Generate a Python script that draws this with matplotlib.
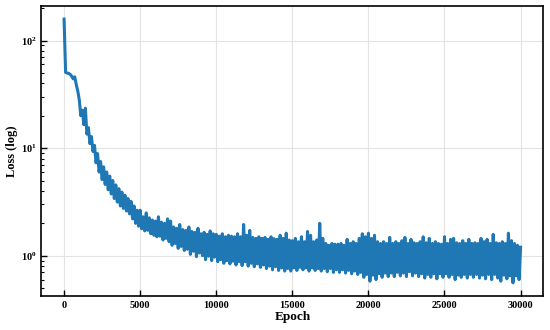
import numpy as np
import matplotlib
matplotlib.use("Agg")
import matplotlib.pyplot as plt

# training loss, one value every 100 epochs
epoch = np.arange(0, 30001, 100)
loss = [
    158, 50.5, 49.8, 49.5, 48.5, 46.5, 44, 46, 39, 34,
    28, 20, 22.5, 16.5, 23.5, 13.5, 15.5, 11, 12.8, 9.3,
    10.6, 7.3, 8.9, 6.0, 7.5, 5.1, 6.7, 4.6, 6.0, 4.1,
    5.5, 3.75, 5.0, 3.4, 4.55, 3.15, 4.2, 2.9, 3.9, 2.75,
    3.65, 2.6, 3.4, 2.45, 3.2, 2.2, 2.9, 2.0, 2.65, 1.88,
    2.65, 1.78, 2.3, 1.7, 2.5, 1.72, 2.25, 1.6, 2.15, 1.55,
    2.1, 1.5, 2.3, 1.52, 2.05, 1.4, 2.0, 1.45, 2.2, 1.35,
    2.1, 1.25, 1.85, 1.3, 1.8, 1.17, 1.95, 1.22, 1.75, 1.12,
    1.72, 1.15, 1.85, 1.03, 1.68, 1.1, 1.65, 0.98, 1.8, 1.06,
    1.6, 1.0, 1.65, 0.92, 1.58, 0.99, 1.7, 0.9, 1.6, 0.97,
    1.58, 0.88, 1.52, 0.92, 1.6, 0.85, 1.5, 0.9, 1.55, 0.84,
    1.52, 0.89, 1.5, 0.82, 1.6, 0.88, 1.5, 0.81, 1.95, 0.88,
    1.55, 0.8, 1.72, 0.85, 1.48, 0.79, 1.45, 0.84, 1.5, 0.78,
    1.45, 0.82, 1.48, 0.76, 1.42, 0.8, 1.5, 0.74, 1.44, 0.79,
    1.42, 0.73, 1.55, 0.77, 1.45, 0.72, 1.62, 0.76, 1.4, 0.72,
    1.38, 0.77, 1.45, 0.73, 1.35, 0.78, 1.5, 0.74, 1.35, 0.77,
    1.68, 0.72, 1.55, 0.77, 1.35, 0.73, 1.4, 0.76, 2.0, 0.72,
    1.45, 0.76, 1.3, 0.71, 1.25, 0.76, 1.3, 0.7, 1.28, 0.74,
    1.28, 0.7, 1.3, 0.74, 1.25, 0.69, 1.42, 0.73, 1.3, 0.68,
    1.35, 0.72, 1.3, 0.67, 1.45, 0.7, 1.6, 0.63, 1.5, 0.67,
    1.62, 0.58, 1.45, 0.66, 1.55, 0.6, 1.35, 0.68, 1.3, 0.63,
    1.35, 0.69, 1.3, 0.64, 1.48, 0.69, 1.3, 0.64, 1.35, 0.7,
    1.3, 0.65, 1.38, 0.69, 1.48, 0.64, 1.3, 0.71, 1.42, 0.65,
    1.32, 0.69, 1.3, 0.64, 1.35, 0.68, 1.5, 0.62, 1.32, 0.67,
    1.45, 0.63, 1.3, 0.68, 1.35, 0.61, 1.3, 0.68, 1.28, 0.63,
    1.5, 0.68, 1.3, 0.63, 1.42, 0.67, 1.45, 0.6, 1.32, 0.66,
    1.3, 0.63, 1.38, 0.67, 1.3, 0.62, 1.42, 0.67, 1.3, 0.63,
    1.32, 0.67, 1.3, 0.62, 1.45, 0.66, 1.35, 0.61, 1.42, 0.67,
    1.3, 0.6, 1.58, 0.67, 1.32, 0.62, 1.3, 0.58, 1.35, 0.66,
    1.3, 0.61, 1.62, 0.65, 1.38, 0.56, 1.3, 0.65, 1.25, 0.6,
    1.2,
]

plt.rcParams['font.family'] = ['Liberation Serif', 'DejaVu Serif']
plt.rcParams['font.weight'] = 'bold'
plt.rcParams['mathtext.fontset'] = 'custom'
plt.rcParams['mathtext.rm'] = 'Liberation Serif:bold'
plt.rcParams['mathtext.bf'] = 'Liberation Serif:bold'
plt.rcParams['mathtext.default'] = 'rm'

fig, ax = plt.subplots(figsize=(5.5, 3.3), dpi=100)
fig.subplots_adjust(left=0.075, right=0.988, top=0.982, bottom=0.103)

ax.plot(epoch, loss, color='#1f77b4', lw=2.2)
ax.set_yscale('log')

ax.set_xticks([0, 5000, 10000, 15000, 20000, 25000, 30000])
ax.grid(True, color='#e3e3e3', lw=0.8)
ax.tick_params(which='both', direction='in', labelsize=7.5)
ax.tick_params(which='major', length=4, width=1)
ax.tick_params(which='minor', length=2, width=0.8)
for s in ax.spines.values():
    s.set_linewidth(1.2)

ax.set_xlabel('Epoch', fontsize=9.5, fontweight='bold', labelpad=1)
ax.set_ylabel('Loss (log)', fontsize=9, fontweight='bold', labelpad=2)

fig.savefig('out.png', dpi=100)
